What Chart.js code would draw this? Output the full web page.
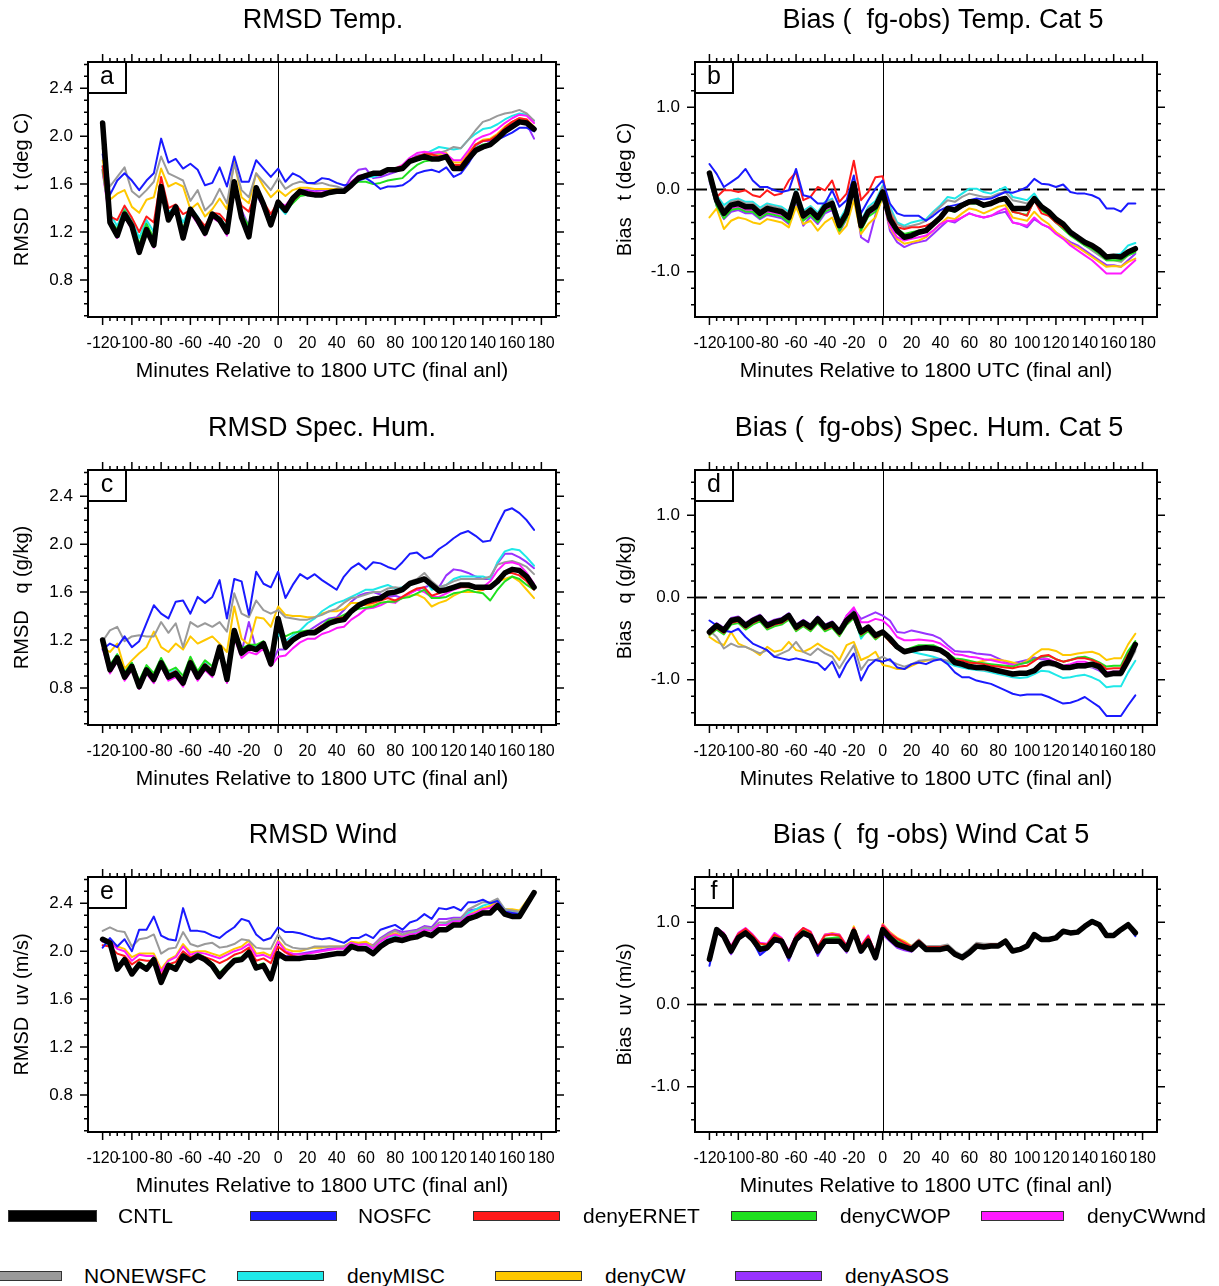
<!DOCTYPE html>
<html>
<head>
<meta charset="utf-8">
<title>RMSD and Bias by minute</title>
<script src="https://cdn.jsdelivr.net/npm/chart.js@4.4.1/dist/chart.umd.min.js"></script>
<style>
  body { margin: 0; background: #fff; }
  #page { position: relative; width: 1219px; height: 1286px; overflow: hidden; font-family: "Liberation Sans", Arial, Helvetica, sans-serif; }
  #page canvas { position: absolute; }
  .sw { position: absolute; height: 8px; border: 1px solid #333; }
  .lab { position: absolute; font-size: 21px; line-height: 24px; color: #000; white-space: nowrap; }
</style>
</head>
<body>
<div id="page">
  <canvas id="panelA" width="605" height="400" style="left:0;top:0"></canvas>
  <canvas id="panelB" width="614" height="400" style="left:605px;top:0"></canvas>
  <canvas id="panelC" width="605" height="400" style="left:0;top:408px"></canvas>
  <canvas id="panelD" width="614" height="400" style="left:605px;top:408px"></canvas>
  <canvas id="panelE" width="605" height="400" style="left:0;top:815px"></canvas>
  <canvas id="panelF" width="614" height="400" style="left:605px;top:815px"></canvas>
</div>
<script>
Chart.defaults.font.family = '"Liberation Sans", Arial, Helvetica, sans-serif';
Chart.defaults.font.size = 16;
Chart.defaults.color = "#000";

// minutes relative to 1800 UTC
const minutes = [-120,-115,-110,-105,-100,-95,-90,-85,-80,-75,-70,-65,-60,-55,-50,-45,-40,-35,-30,-25,-20,-15,-10,-5,0,
  5,10,15,20,25,30,35,40,45,50,55,60,65,70,75,80,85,90,95,100,105,110,115,120,125,130,135,140,145,150,155,160,165,170,175];
const xTicks = [-120,-100,-80,-60,-40,-20,0,20,40,60,80,100,120,140,160,180];
const rmsdTicks = [0.8, 1.2, 1.6, 2.0, 2.4];
const biasTicks = [-1, 0, 1];

const seriesNames = ["CNTL","NOSFC","denyERNET","denyCWOP","denyCWwnd","NONEWSFC","denyMISC","denyCW","denyASOS"];
const seriesColors = ["#000000","#1a1aff","#ff1a1a","#1fe01f","#ff1aff","#9a9a9a","#1fe8e8","#ffc800","#9933ff"];

// ---- RMSD temperature (a)
const tRmsdCNTL = [2.11,1.28,1.17,1.35,1.25,1.03,1.22,1.09,1.58,1.30,1.41,1.15,1.39,1.30,1.19,1.35,1.30,1.20,1.62,1.32,1.16,1.57,1.43,1.26,1.45,
  1.38,1.48,1.54,1.52,1.51,1.51,1.53,1.54,1.54,1.59,1.65,1.67,1.69,1.69,1.72,1.72,1.73,1.79,1.81,1.83,1.81,1.81,1.83,1.73,1.73,1.81,1.88,1.91,1.93,1.98,2.04,2.08,2.12,2.11,2.06];
const tRmsdNOSFC = [1.85,1.51,1.63,1.69,1.63,1.55,1.63,1.69,1.98,1.78,1.81,1.73,1.77,1.72,1.59,1.61,1.74,1.58,1.83,1.62,1.62,1.80,1.73,1.66,1.73,
  1.62,1.69,1.66,1.61,1.61,1.65,1.64,1.61,1.59,1.60,1.63,1.65,1.61,1.56,1.58,1.58,1.59,1.63,1.69,1.71,1.72,1.70,1.74,1.66,1.69,1.77,1.87,1.92,1.93,1.97,2.00,2.03,2.07,2.07,2.04];
const tRmsdERNET = [1.75,1.33,1.30,1.42,1.32,1.20,1.33,1.28,1.66,1.40,1.43,1.35,1.38,1.32,1.25,1.36,1.35,1.28,1.60,1.42,1.37,1.55,1.45,1.35,1.45,
  1.40,1.46,1.52,1.52,1.52,1.52,1.53,1.54,1.54,1.60,1.66,1.68,1.68,1.70,1.73,1.73,1.75,1.80,1.83,1.85,1.85,1.83,1.83,1.76,1.76,1.84,1.93,1.96,1.97,2.01,2.07,2.12,2.15,2.14,2.07];
const tRmsdCWOP = [1.72,1.30,1.22,1.38,1.28,1.10,1.27,1.15,1.56,1.34,1.40,1.23,1.38,1.30,1.21,1.34,1.32,1.23,1.58,1.35,1.25,1.54,1.44,1.30,1.45,
  1.38,1.44,1.50,1.51,1.51,1.51,1.52,1.53,1.54,1.59,1.62,1.62,1.60,1.61,1.63,1.64,1.65,1.71,1.76,1.79,1.80,1.81,1.82,1.74,1.74,1.82,1.90,1.93,1.94,1.98,2.04,2.09,2.13,2.13,2.06];
const tRmsdCWwnd = [1.70,1.28,1.15,1.33,1.22,1.02,1.20,1.07,1.52,1.30,1.37,1.14,1.36,1.27,1.17,1.32,1.28,1.17,1.56,1.30,1.19,1.52,1.40,1.25,1.45,
  1.42,1.50,1.54,1.54,1.53,1.53,1.54,1.54,1.55,1.62,1.67,1.68,1.68,1.69,1.72,1.73,1.76,1.82,1.86,1.87,1.86,1.87,1.85,1.80,1.80,1.88,1.97,2.00,2.02,2.06,2.11,2.15,2.18,2.17,2.11];
const tRmsdNONEW = [1.90,1.58,1.66,1.74,1.54,1.49,1.55,1.62,1.83,1.69,1.66,1.63,1.46,1.55,1.38,1.44,1.56,1.44,1.77,1.55,1.49,1.69,1.62,1.55,1.65,
  1.56,1.60,1.62,1.61,1.60,1.61,1.59,1.58,1.56,1.60,1.66,1.68,1.69,1.70,1.72,1.73,1.74,1.80,1.83,1.85,1.85,1.86,1.88,1.91,1.90,1.97,2.05,2.12,2.14,2.17,2.19,2.20,2.22,2.19,2.13];
const tRmsdMISC = [1.75,1.35,1.25,1.40,1.30,1.15,1.30,1.20,1.52,1.37,1.40,1.28,1.40,1.33,1.22,1.36,1.32,1.24,1.58,1.34,1.24,1.50,1.42,1.30,1.42,
  1.35,1.45,1.52,1.51,1.51,1.52,1.53,1.54,1.55,1.60,1.65,1.66,1.66,1.68,1.71,1.72,1.74,1.78,1.82,1.85,1.88,1.91,1.90,1.89,1.90,1.97,2.02,2.06,2.07,2.10,2.14,2.17,2.19,2.18,2.13];
const tRmsdCW = [1.80,1.47,1.52,1.55,1.41,1.36,1.47,1.49,1.73,1.58,1.61,1.58,1.39,1.44,1.33,1.39,1.48,1.39,1.79,1.49,1.44,1.69,1.58,1.49,1.55,
  1.50,1.55,1.57,1.57,1.56,1.56,1.56,1.56,1.55,1.60,1.66,1.67,1.68,1.69,1.71,1.72,1.74,1.79,1.82,1.84,1.84,1.85,1.86,1.78,1.78,1.86,1.93,1.97,1.98,2.02,2.08,2.12,2.15,2.14,2.08];
const tRmsdASOS = [1.72,1.30,1.22,1.38,1.28,1.08,1.26,1.12,1.54,1.33,1.40,1.20,1.40,1.30,1.20,1.36,1.32,1.22,1.58,1.38,1.25,1.55,1.45,1.30,1.46,
  1.40,1.50,1.55,1.55,1.54,1.55,1.55,1.54,1.56,1.66,1.72,1.73,1.65,1.66,1.68,1.70,1.73,1.80,1.84,1.85,1.84,1.84,1.84,1.76,1.76,1.85,1.92,1.96,1.96,2.01,2.07,2.11,2.14,2.10,1.98];

// ---- Bias temperature (b)
const tBiasCNTL = [0.20,-0.13,-0.29,-0.19,-0.17,-0.21,-0.21,-0.29,-0.23,-0.25,-0.27,-0.34,-0.05,-0.32,-0.25,-0.34,-0.21,-0.17,-0.44,-0.29,0.07,-0.44,-0.27,-0.21,-0.03,
  -0.36,-0.50,-0.58,-0.56,-0.52,-0.50,-0.42,-0.34,-0.23,-0.25,-0.19,-0.15,-0.15,-0.19,-0.17,-0.13,-0.11,-0.23,-0.23,-0.23,-0.11,-0.21,-0.27,-0.36,-0.42,-0.52,-0.58,-0.64,-0.68,-0.74,-0.82,-0.81,-0.82,-0.76,-0.72];
const tBiasNOSFC = [0.31,0.19,0.03,0.09,0.15,0.25,0.11,0.03,0.03,-0.01,-0.03,-0.01,0.25,-0.07,-0.09,-0.17,-0.17,-0.01,-0.21,-0.13,0.17,-0.29,-0.13,0.01,0.11,
  -0.17,-0.29,-0.32,-0.32,-0.32,-0.38,-0.32,-0.25,-0.21,-0.19,-0.17,-0.13,-0.11,-0.12,-0.11,-0.07,-0.03,-0.04,-0.01,0.03,0.13,0.07,0.06,0.03,0.06,-0.03,-0.05,-0.05,-0.07,-0.11,-0.23,-0.23,-0.27,-0.17,-0.17];
const tBiasERNET = [0.18,-0.09,-0.01,-0.01,-0.03,-0.01,-0.07,-0.09,-0.01,-0.07,-0.05,0.11,0.21,-0.13,-0.09,0.03,-0.01,0.11,-0.15,-0.05,0.35,-0.13,-0.03,0.15,0.16,
  -0.29,-0.46,-0.48,-0.46,-0.46,-0.44,-0.40,-0.32,-0.23,-0.25,-0.21,-0.17,-0.15,-0.19,-0.15,-0.11,-0.09,-0.27,-0.29,-0.32,-0.13,-0.29,-0.32,-0.40,-0.46,-0.54,-0.60,-0.66,-0.70,-0.76,-0.80,-0.80,-0.82,-0.76,-0.74];
const tBiasCWOP = [0.12,-0.20,-0.35,-0.25,-0.23,-0.27,-0.27,-0.35,-0.29,-0.31,-0.33,-0.40,-0.12,-0.38,-0.31,-0.40,-0.27,-0.23,-0.50,-0.35,0.01,-0.50,-0.33,-0.27,-0.08,
  -0.33,-0.48,-0.54,-0.52,-0.50,-0.48,-0.42,-0.34,-0.25,-0.27,-0.21,-0.17,-0.17,-0.21,-0.17,-0.13,-0.11,-0.27,-0.29,-0.31,-0.13,-0.25,-0.32,-0.40,-0.48,-0.56,-0.62,-0.68,-0.72,-0.78,-0.86,-0.86,-0.86,-0.80,-0.76];
const tBiasCWwnd = [0.14,-0.17,-0.33,-0.23,-0.21,-0.25,-0.25,-0.33,-0.27,-0.29,-0.31,-0.38,-0.09,-0.36,-0.29,-0.38,-0.25,-0.21,-0.48,-0.33,0.03,-0.48,-0.31,-0.25,-0.06,
  -0.44,-0.58,-0.62,-0.60,-0.58,-0.56,-0.50,-0.42,-0.38,-0.38,-0.34,-0.29,-0.32,-0.34,-0.32,-0.27,-0.23,-0.40,-0.42,-0.44,-0.34,-0.42,-0.46,-0.54,-0.60,-0.68,-0.74,-0.80,-0.86,-0.94,-1.02,-1.02,-1.02,-0.94,-0.86];
const tBiasNONEW = [0.17,-0.09,-0.23,-0.15,-0.13,-0.17,-0.17,-0.25,-0.19,-0.21,-0.23,-0.30,-0.02,-0.28,-0.22,-0.30,-0.17,-0.13,-0.40,-0.25,0.09,-0.40,-0.23,-0.17,0.03,
  -0.25,-0.42,-0.46,-0.44,-0.42,-0.38,-0.29,-0.21,-0.13,-0.15,-0.09,-0.05,-0.07,-0.09,-0.09,-0.05,-0.03,-0.13,-0.15,-0.17,-0.09,-0.23,-0.29,-0.40,-0.46,-0.54,-0.62,-0.68,-0.74,-0.80,-0.86,-0.86,-0.88,-0.80,-0.76];
const tBiasMISC = [0.15,-0.07,-0.19,-0.13,-0.11,-0.15,-0.15,-0.22,-0.17,-0.19,-0.21,-0.27,0.00,-0.26,-0.20,-0.28,-0.15,-0.11,-0.37,-0.22,0.10,-0.38,-0.21,-0.14,0.05,
  -0.21,-0.40,-0.44,-0.40,-0.38,-0.36,-0.27,-0.19,-0.09,-0.11,-0.05,0.01,0.01,-0.03,-0.05,-0.01,0.03,-0.09,-0.11,-0.13,-0.05,-0.19,-0.27,-0.38,-0.44,-0.52,-0.58,-0.62,-0.68,-0.72,-0.80,-0.80,-0.78,-0.68,-0.65];
const tBiasCW = [-0.34,-0.23,-0.48,-0.38,-0.34,-0.36,-0.40,-0.42,-0.36,-0.38,-0.40,-0.46,-0.21,-0.42,-0.38,-0.50,-0.40,-0.34,-0.54,-0.44,-0.13,-0.54,-0.42,-0.34,-0.09,
  -0.46,-0.60,-0.66,-0.64,-0.62,-0.58,-0.50,-0.42,-0.34,-0.36,-0.29,-0.23,-0.25,-0.29,-0.25,-0.21,-0.19,-0.34,-0.36,-0.38,-0.27,-0.36,-0.42,-0.52,-0.58,-0.66,-0.70,-0.76,-0.82,-0.88,-0.94,-0.93,-0.94,-0.88,-0.84];
const tBiasASOS = [0.10,-0.20,-0.36,-0.27,-0.25,-0.29,-0.29,-0.36,-0.31,-0.33,-0.35,-0.42,-0.15,-0.44,-0.33,-0.42,-0.29,-0.25,-0.52,-0.36,0.00,-0.58,-0.64,-0.31,-0.09,
  -0.50,-0.64,-0.70,-0.66,-0.64,-0.62,-0.54,-0.46,-0.38,-0.40,-0.34,-0.29,-0.32,-0.34,-0.32,-0.29,-0.27,-0.40,-0.42,-0.46,-0.36,-0.42,-0.46,-0.52,-0.58,-0.64,-0.68,-0.74,-0.80,-0.86,-0.92,-0.92,-0.94,-0.86,-0.78];

// ---- RMSD specific humidity (c)
const qRmsdCNTL = [1.20,0.95,1.05,0.89,0.98,0.81,0.95,0.87,1.01,0.89,0.92,0.84,1.01,0.89,0.98,0.92,1.14,0.87,1.28,1.09,1.14,1.12,1.17,1.00,1.38,
  1.14,1.20,1.24,1.26,1.26,1.30,1.34,1.36,1.37,1.44,1.49,1.52,1.54,1.55,1.59,1.60,1.62,1.67,1.69,1.71,1.66,1.61,1.62,1.64,1.66,1.66,1.64,1.64,1.64,1.69,1.76,1.79,1.78,1.73,1.64];
const qRmsdNOSFC = [1.12,1.17,1.14,1.23,1.14,1.19,1.34,1.49,1.42,1.38,1.52,1.53,1.42,1.56,1.51,1.56,1.70,1.38,1.71,1.69,1.41,1.77,1.67,1.64,1.77,
  1.55,1.66,1.75,1.71,1.75,1.70,1.66,1.62,1.73,1.80,1.84,1.79,1.85,1.84,1.81,1.79,1.85,1.92,1.93,1.88,1.90,1.96,2.00,2.05,2.09,2.11,2.07,2.02,2.03,2.16,2.28,2.30,2.26,2.20,2.12];
const qRmsdERNET = [1.15,0.97,1.06,0.91,0.99,0.84,0.96,0.90,1.02,0.91,0.94,0.87,1.03,0.91,1.00,0.95,1.12,0.90,1.22,1.10,1.13,1.13,1.16,1.03,1.30,
  1.17,1.21,1.24,1.26,1.28,1.32,1.35,1.38,1.39,1.45,1.48,1.50,1.51,1.53,1.55,1.53,1.56,1.60,1.63,1.64,1.57,1.59,1.62,1.63,1.64,1.64,1.63,1.62,1.64,1.71,1.76,1.76,1.74,1.69,1.62];
const qRmsdCWOP = [1.17,0.99,1.08,0.93,1.01,0.86,0.99,0.92,1.05,0.94,0.97,0.90,1.06,0.94,1.03,0.98,1.15,0.95,1.25,1.13,1.16,1.16,1.19,1.06,1.30,
  1.23,1.26,1.27,1.28,1.28,1.32,1.37,1.38,1.41,1.44,1.46,1.47,1.48,1.51,1.52,1.52,1.55,1.56,1.59,1.62,1.55,1.55,1.56,1.59,1.60,1.62,1.60,1.59,1.53,1.62,1.69,1.73,1.71,1.66,1.62];
const qRmsdCWwnd = [1.13,0.92,1.02,0.86,0.95,0.79,0.92,0.84,0.98,0.86,0.89,0.81,0.98,0.86,0.95,0.89,1.10,0.84,1.22,1.05,1.10,1.08,1.13,0.98,1.06,
  1.07,1.13,1.18,1.21,1.21,1.25,1.27,1.30,1.31,1.37,1.41,1.46,1.47,1.49,1.52,1.51,1.56,1.59,1.62,1.60,1.56,1.56,1.59,1.62,1.64,1.66,1.64,1.64,1.69,1.78,1.84,1.85,1.83,1.76,1.67];
const qRmsdNONEW = [1.19,1.28,1.31,1.19,1.23,1.24,1.23,1.23,1.35,1.26,1.34,1.14,1.35,1.31,1.34,1.31,1.35,1.27,1.59,1.42,1.39,1.53,1.45,1.42,1.45,
  1.39,1.38,1.37,1.37,1.39,1.41,1.44,1.46,1.51,1.55,1.56,1.58,1.60,1.60,1.63,1.64,1.63,1.69,1.71,1.76,1.69,1.64,1.66,1.69,1.71,1.71,1.71,1.71,1.73,1.83,1.85,1.86,1.84,1.81,1.75];
const qRmsdMISC = [1.18,0.98,1.08,0.92,1.01,0.84,0.98,0.90,1.04,0.92,0.95,0.87,1.04,0.92,1.01,0.95,1.13,0.90,1.25,1.12,1.15,1.15,1.18,1.03,1.25,
  1.19,1.24,1.28,1.34,1.38,1.44,1.48,1.51,1.53,1.56,1.59,1.62,1.62,1.64,1.66,1.63,1.64,1.68,1.70,1.71,1.62,1.64,1.66,1.71,1.73,1.73,1.73,1.73,1.71,1.85,1.94,1.96,1.95,1.89,1.82];
const qRmsdCW = [1.13,1.10,1.17,0.96,1.03,1.09,1.14,1.27,1.14,1.10,1.17,1.12,1.23,1.17,1.20,1.23,1.17,1.10,1.48,1.21,1.16,1.39,1.38,1.31,1.48,
  1.41,1.40,1.40,1.39,1.39,1.42,1.44,1.44,1.46,1.51,1.51,1.49,1.49,1.51,1.52,1.53,1.55,1.57,1.58,1.55,1.48,1.51,1.53,1.57,1.60,1.60,1.60,1.62,1.66,1.69,1.71,1.73,1.69,1.62,1.55];
const qRmsdASOS = [1.17,0.96,1.06,0.90,0.99,0.83,0.96,0.88,1.02,0.88,0.93,0.86,1.02,0.88,0.99,0.93,1.13,0.88,1.27,1.10,1.35,1.12,1.16,0.99,1.12,
  1.12,1.19,1.24,1.27,1.31,1.35,1.38,1.39,1.45,1.52,1.57,1.59,1.60,1.58,1.56,1.57,1.55,1.59,1.62,1.64,1.66,1.64,1.74,1.79,1.78,1.76,1.73,1.71,1.71,1.84,1.92,1.92,1.89,1.85,1.80];

// ---- Bias specific humidity (d)
const qBiasCNTL = [-0.42,-0.34,-0.40,-0.28,-0.26,-0.34,-0.28,-0.24,-0.34,-0.30,-0.28,-0.22,-0.36,-0.30,-0.36,-0.26,-0.36,-0.32,-0.42,-0.28,-0.20,-0.42,-0.36,-0.46,-0.42,
  -0.50,-0.60,-0.66,-0.64,-0.62,-0.61,-0.62,-0.64,-0.70,-0.79,-0.81,-0.84,-0.85,-0.85,-0.87,-0.89,-0.91,-0.93,-0.92,-0.92,-0.89,-0.81,-0.79,-0.81,-0.85,-0.85,-0.83,-0.83,-0.81,-0.84,-0.94,-0.92,-0.92,-0.76,-0.57];
const qBiasNOSFC = [-0.28,-0.34,-0.40,-0.42,-0.38,-0.48,-0.56,-0.60,-0.64,-0.72,-0.74,-0.76,-0.74,-0.76,-0.78,-0.80,-0.88,-0.78,-0.97,-0.80,-0.68,-1.01,-0.84,-0.76,-0.78,
  -0.75,-0.85,-0.87,-0.81,-0.79,-0.81,-0.77,-0.75,-0.81,-0.91,-0.97,-0.97,-1.01,-1.03,-1.05,-1.09,-1.13,-1.17,-1.19,-1.18,-1.18,-1.18,-1.21,-1.25,-1.29,-1.28,-1.25,-1.21,-1.27,-1.33,-1.44,-1.44,-1.44,-1.31,-1.19];
const qBiasERNET = [-0.45,-0.37,-0.43,-0.31,-0.29,-0.37,-0.31,-0.27,-0.37,-0.33,-0.31,-0.25,-0.39,-0.33,-0.39,-0.29,-0.39,-0.35,-0.45,-0.31,-0.23,-0.45,-0.39,-0.49,-0.44,
  -0.54,-0.62,-0.65,-0.63,-0.61,-0.60,-0.61,-0.64,-0.69,-0.76,-0.77,-0.79,-0.80,-0.81,-0.83,-0.84,-0.85,-0.86,-0.84,-0.83,-0.77,-0.71,-0.70,-0.75,-0.78,-0.76,-0.74,-0.74,-0.76,-0.80,-0.87,-0.86,-0.86,-0.69,-0.57];
const qBiasCWOP = [-0.46,-0.39,-0.45,-0.33,-0.31,-0.39,-0.33,-0.29,-0.39,-0.35,-0.33,-0.27,-0.41,-0.35,-0.41,-0.31,-0.41,-0.37,-0.47,-0.33,-0.25,-0.47,-0.41,-0.51,-0.44,
  -0.54,-0.60,-0.64,-0.61,-0.58,-0.58,-0.58,-0.62,-0.68,-0.74,-0.75,-0.77,-0.79,-0.80,-0.81,-0.82,-0.83,-0.84,-0.81,-0.79,-0.75,-0.72,-0.71,-0.75,-0.78,-0.76,-0.73,-0.72,-0.75,-0.79,-0.84,-0.83,-0.83,-0.65,-0.53];
const qBiasCWwnd = [-0.40,-0.32,-0.38,-0.26,-0.24,-0.32,-0.26,-0.22,-0.32,-0.28,-0.26,-0.20,-0.34,-0.28,-0.34,-0.24,-0.34,-0.30,-0.40,-0.22,-0.12,-0.30,-0.30,-0.26,-0.28,
  -0.36,-0.48,-0.52,-0.52,-0.51,-0.52,-0.53,-0.56,-0.62,-0.69,-0.70,-0.72,-0.73,-0.75,-0.76,-0.78,-0.80,-0.82,-0.81,-0.79,-0.75,-0.73,-0.75,-0.79,-0.83,-0.81,-0.78,-0.78,-0.81,-0.85,-0.91,-0.90,-0.90,-0.73,-0.61];
const qBiasNONEW = [-0.40,-0.48,-0.62,-0.56,-0.60,-0.60,-0.64,-0.68,-0.64,-0.72,-0.68,-0.64,-0.54,-0.66,-0.70,-0.62,-0.68,-0.72,-0.86,-0.72,-0.58,-0.88,-0.76,-0.76,-0.72,
  -0.77,-0.81,-0.84,-0.81,-0.77,-0.76,-0.75,-0.75,-0.77,-0.81,-0.83,-0.85,-0.87,-0.88,-0.89,-0.91,-0.93,-0.95,-0.94,-0.93,-0.91,-0.83,-0.82,-0.84,-0.87,-0.87,-0.85,-0.85,-0.84,-0.87,-0.96,-0.95,-0.95,-0.81,-0.65];
const qBiasMISC = [-0.44,-0.36,-0.42,-0.30,-0.28,-0.36,-0.30,-0.26,-0.36,-0.32,-0.30,-0.24,-0.38,-0.32,-0.38,-0.28,-0.38,-0.34,-0.44,-0.30,-0.22,-0.50,-0.38,-0.48,-0.42,
  -0.52,-0.62,-0.66,-0.66,-0.68,-0.70,-0.72,-0.75,-0.79,-0.83,-0.85,-0.87,-0.88,-0.89,-0.91,-0.93,-0.95,-0.97,-0.98,-0.97,-0.93,-0.89,-0.90,-0.94,-0.98,-0.97,-0.95,-0.94,-0.97,-1.01,-1.09,-1.08,-1.08,-0.91,-0.77];
const qBiasCW = [-0.48,-0.54,-0.58,-0.42,-0.56,-0.60,-0.64,-0.70,-0.60,-0.66,-0.64,-0.54,-0.64,-0.66,-0.62,-0.56,-0.62,-0.66,-0.76,-0.58,-0.54,-0.76,-0.72,-0.66,-0.82,
  -0.84,-0.87,-0.87,-0.83,-0.79,-0.77,-0.75,-0.75,-0.78,-0.81,-0.83,-0.81,-0.79,-0.77,-0.75,-0.76,-0.77,-0.79,-0.81,-0.77,-0.69,-0.63,-0.63,-0.65,-0.70,-0.70,-0.68,-0.67,-0.66,-0.69,-0.76,-0.74,-0.74,-0.57,-0.44];
const qBiasASOS = [-0.39,-0.31,-0.37,-0.25,-0.23,-0.31,-0.25,-0.21,-0.31,-0.27,-0.25,-0.19,-0.33,-0.27,-0.33,-0.23,-0.33,-0.29,-0.39,-0.22,-0.14,-0.26,-0.22,-0.18,-0.22,
  -0.28,-0.42,-0.43,-0.40,-0.42,-0.44,-0.46,-0.50,-0.58,-0.65,-0.66,-0.66,-0.68,-0.69,-0.70,-0.74,-0.78,-0.80,-0.78,-0.76,-0.73,-0.75,-0.76,-0.83,-0.85,-0.83,-0.81,-0.83,-0.85,-0.89,-0.95,-0.94,-0.94,-0.75,-0.63];

// ---- RMSD wind (e)
const uvRmsdCNTL = [2.10,2.07,1.85,1.93,1.81,1.89,1.85,1.93,1.74,1.88,1.85,1.96,1.92,1.96,1.93,1.88,1.79,1.86,1.92,1.93,1.99,1.86,1.88,1.77,1.98,
  1.94,1.94,1.94,1.95,1.95,1.96,1.97,1.98,1.98,2.04,2.02,2.02,1.98,2.04,2.08,2.10,2.09,2.11,2.12,2.15,2.13,2.18,2.18,2.22,2.22,2.27,2.29,2.32,2.32,2.38,2.31,2.29,2.29,2.39,2.49];
const uvRmsdNOSFC = [2.03,2.11,2.04,2.10,2.00,2.18,2.18,2.29,2.13,2.10,2.09,2.36,2.17,2.17,2.16,2.13,2.11,2.16,2.20,2.27,2.25,2.14,2.09,2.11,2.20,
  2.16,2.16,2.15,2.13,2.11,2.10,2.11,2.09,2.07,2.11,2.11,2.14,2.11,2.18,2.20,2.22,2.18,2.24,2.26,2.31,2.27,2.36,2.35,2.37,2.34,2.41,2.41,2.43,2.40,2.42,2.33,2.32,2.31,2.40,2.49];
const uvRmsdERNET = [2.05,2.04,1.98,1.96,1.89,1.93,1.92,1.92,1.80,1.89,1.91,2.00,1.95,1.97,1.95,1.93,1.90,1.93,1.97,1.99,2.03,1.92,1.94,1.90,2.04,
  1.99,1.96,1.95,1.96,1.96,1.97,1.98,1.99,1.99,2.05,2.03,2.03,1.99,2.05,2.09,2.11,2.10,2.12,2.13,2.16,2.14,2.19,2.19,2.23,2.23,2.28,2.30,2.33,2.33,2.39,2.32,2.30,2.30,2.40,2.49];
const uvRmsdCWOP = [2.10,2.07,1.87,1.95,1.83,1.91,1.87,1.95,1.77,1.90,1.87,1.98,1.94,1.98,1.95,1.90,1.82,1.88,1.94,1.95,2.01,1.88,1.90,1.80,1.98,
  1.95,1.95,1.95,1.96,1.96,1.97,1.98,1.99,1.99,2.05,2.03,2.03,1.99,2.05,2.09,2.11,2.10,2.12,2.13,2.16,2.14,2.19,2.19,2.23,2.23,2.28,2.30,2.33,2.33,2.39,2.32,2.30,2.30,2.40,2.49];
const uvRmsdCWwnd = [2.08,2.08,2.02,2.00,1.92,1.97,1.96,1.96,1.83,1.92,1.95,2.04,1.97,1.99,1.98,1.96,1.94,1.97,2.00,2.02,2.06,1.96,1.97,1.94,2.08,
  2.00,1.98,1.97,1.98,1.99,2.00,2.01,2.02,2.02,2.07,2.05,2.06,2.02,2.08,2.12,2.14,2.12,2.14,2.15,2.18,2.17,2.22,2.22,2.25,2.25,2.30,2.32,2.35,2.36,2.40,2.33,2.32,2.31,2.40,2.49];
const uvRmsdNONEW = [2.17,2.20,2.17,2.16,2.04,2.10,2.11,2.14,1.98,2.02,2.03,2.16,2.06,2.04,2.06,2.07,2.03,2.04,2.06,2.10,2.09,2.03,2.02,2.02,2.14,
  2.06,2.03,2.02,2.02,2.04,2.04,2.04,2.04,2.04,2.07,2.05,2.06,2.04,2.10,2.14,2.17,2.14,2.16,2.17,2.20,2.19,2.24,2.24,2.27,2.27,2.35,2.38,2.41,2.41,2.44,2.35,2.34,2.33,2.41,2.49];
const uvRmsdMISC = [2.08,2.05,1.84,1.92,1.80,1.88,1.84,1.92,1.74,1.87,1.84,1.95,1.91,1.95,1.92,1.87,1.79,1.85,1.91,1.92,1.98,1.85,1.87,1.77,1.96,
  1.93,1.93,1.93,1.94,1.94,1.96,1.97,1.98,1.98,2.05,2.04,2.04,2.00,2.06,2.10,2.13,2.12,2.14,2.16,2.19,2.17,2.22,2.23,2.26,2.26,2.32,2.35,2.38,2.40,2.43,2.35,2.33,2.32,2.41,2.49];
const uvRmsdCW = [2.10,2.09,2.04,2.02,1.95,1.98,1.98,1.98,1.85,1.93,1.96,2.06,1.99,2.00,2.00,1.98,1.96,1.99,2.02,2.04,2.09,1.98,1.99,1.96,2.09,
  2.02,2.00,2.00,2.02,2.03,2.03,2.04,2.04,2.04,2.08,2.07,2.08,2.04,2.10,2.13,2.15,2.13,2.15,2.16,2.18,2.17,2.22,2.22,2.25,2.26,2.31,2.33,2.36,2.38,2.42,2.35,2.35,2.34,2.42,2.50];
const uvRmsdASOS = [2.09,2.06,1.86,1.94,1.82,1.90,1.86,1.94,1.75,1.89,1.86,1.97,1.93,1.97,1.94,1.89,1.77,1.87,1.93,1.94,2.00,1.87,1.89,1.78,1.97,
  1.96,1.97,1.98,1.99,2.00,2.01,2.02,2.03,2.04,2.07,2.06,2.07,2.05,2.11,2.15,2.18,2.16,2.17,2.18,2.21,2.20,2.27,2.27,2.28,2.28,2.34,2.35,2.36,2.37,2.41,2.34,2.33,2.32,2.41,2.49];

// ---- Bias wind (f)
const uvBiasCNTL = [0.55,0.91,0.83,0.65,0.81,0.87,0.79,0.67,0.69,0.79,0.77,0.59,0.79,0.87,0.83,0.65,0.77,0.77,0.77,0.67,0.89,0.65,0.77,0.57,0.91,
  0.81,0.73,0.70,0.67,0.75,0.67,0.67,0.67,0.69,0.61,0.57,0.63,0.71,0.70,0.71,0.71,0.77,0.65,0.67,0.71,0.85,0.79,0.79,0.81,0.89,0.87,0.88,0.95,1.01,0.97,0.84,0.84,0.91,0.97,0.87];
const uvBiasNOSFC = [0.47,0.89,0.81,0.63,0.79,0.85,0.77,0.60,0.67,0.77,0.75,0.55,0.77,0.85,0.81,0.61,0.75,0.75,0.75,0.65,0.87,0.63,0.75,0.55,0.89,
  0.79,0.71,0.68,0.66,0.74,0.66,0.66,0.67,0.68,0.61,0.58,0.64,0.72,0.71,0.72,0.72,0.77,0.66,0.67,0.72,0.86,0.80,0.80,0.82,0.90,0.87,0.88,0.96,1.02,0.98,0.84,0.84,0.91,0.96,0.83];
const uvBiasERNET = [0.57,0.92,0.86,0.70,0.86,0.92,0.84,0.74,0.73,0.85,0.80,0.64,0.84,0.93,0.88,0.70,0.84,0.85,0.84,0.71,0.93,0.71,0.83,0.62,0.96,
  0.86,0.80,0.75,0.70,0.78,0.70,0.70,0.70,0.71,0.63,0.58,0.65,0.73,0.72,0.73,0.73,0.78,0.66,0.68,0.72,0.85,0.80,0.80,0.82,0.89,0.87,0.88,0.95,1.01,0.97,0.85,0.85,0.92,0.98,0.88];
const uvBiasCWOP = [0.56,0.91,0.84,0.67,0.83,0.89,0.81,0.70,0.71,0.82,0.79,0.61,0.81,0.90,0.85,0.67,0.80,0.81,0.82,0.69,0.91,0.67,0.80,0.59,0.93,
  0.84,0.77,0.73,0.69,0.77,0.69,0.69,0.69,0.71,0.62,0.58,0.64,0.72,0.72,0.72,0.72,0.78,0.66,0.68,0.72,0.86,0.80,0.80,0.82,0.89,0.87,0.88,0.95,1.01,0.97,0.85,0.85,0.91,0.97,0.87];
const uvBiasCWwnd = [0.57,0.93,0.87,0.71,0.87,0.93,0.85,0.75,0.74,0.87,0.81,0.65,0.85,0.93,0.89,0.70,0.85,0.86,0.85,0.72,0.93,0.72,0.84,0.62,0.97,
  0.87,0.80,0.75,0.69,0.76,0.69,0.69,0.69,0.70,0.62,0.58,0.64,0.72,0.72,0.72,0.72,0.78,0.66,0.67,0.72,0.86,0.80,0.80,0.82,0.89,0.87,0.88,0.95,1.01,0.97,0.84,0.84,0.91,0.97,0.87];
const uvBiasNONEW = [0.55,0.90,0.84,0.67,0.83,0.89,0.81,0.70,0.71,0.81,0.79,0.61,0.81,0.89,0.85,0.67,0.80,0.80,0.80,0.69,0.90,0.67,0.79,0.59,0.93,
  0.84,0.78,0.75,0.71,0.79,0.71,0.71,0.71,0.73,0.65,0.60,0.67,0.75,0.74,0.74,0.74,0.79,0.67,0.68,0.73,0.86,0.80,0.80,0.82,0.89,0.87,0.88,0.95,1.01,0.97,0.84,0.84,0.91,0.97,0.87];
const uvBiasMISC = [0.54,0.90,0.83,0.66,0.82,0.88,0.80,0.68,0.70,0.80,0.78,0.60,0.80,0.88,0.84,0.66,0.78,0.78,0.78,0.68,0.89,0.66,0.78,0.58,0.92,
  0.82,0.75,0.72,0.69,0.76,0.68,0.68,0.69,0.71,0.63,0.59,0.65,0.73,0.72,0.73,0.73,0.78,0.66,0.68,0.72,0.86,0.80,0.80,0.82,0.90,0.88,0.89,0.96,1.03,0.98,0.85,0.85,0.92,0.97,0.87];
const uvBiasCW = [0.56,0.92,0.86,0.70,0.85,0.91,0.83,0.74,0.72,0.84,0.80,0.63,0.83,0.92,0.87,0.70,0.85,0.87,0.85,0.71,0.95,0.71,0.83,0.61,0.98,
  0.88,0.81,0.77,0.71,0.78,0.70,0.70,0.70,0.72,0.63,0.59,0.65,0.73,0.73,0.73,0.73,0.79,0.67,0.68,0.72,0.86,0.80,0.80,0.82,0.89,0.87,0.88,0.95,1.01,0.97,0.84,0.84,0.91,0.97,0.87];
const uvBiasASOS = [0.52,0.88,0.81,0.61,0.79,0.85,0.77,0.63,0.67,0.77,0.75,0.53,0.77,0.85,0.81,0.59,0.75,0.75,0.75,0.63,0.87,0.63,0.75,0.55,0.85,
  0.77,0.69,0.66,0.64,0.73,0.66,0.66,0.67,0.68,0.61,0.57,0.63,0.71,0.71,0.72,0.72,0.78,0.66,0.67,0.72,0.86,0.80,0.80,0.82,0.90,0.88,0.88,0.95,1.01,0.97,0.84,0.84,0.91,0.97,0.87];

const FONT = '"Liberation Sans", Arial, Helvetica, sans-serif';

// NCL-like frame: outward ticks on four sides, letter box, titles, zero lines
const nclFrame = {
  id: "nclFrame",
  beforeDatasetsDraw(chart, args, o) {
    const { ctx, chartArea: a, scales: { x, y } } = chart;
    ctx.save();
    ctx.strokeStyle = "#000";
    ctx.lineWidth = 1;
    const x0 = Math.round(x.getPixelForValue(0)) + 0.5;
    ctx.beginPath();
    ctx.moveTo(x0, a.top);
    ctx.lineTo(x0, a.bottom);
    ctx.stroke();
    if (o.bias) {
      const y0 = y.getPixelForValue(0);
      ctx.lineWidth = 2.2;
      ctx.setLineDash([12, 7]);
      ctx.beginPath();
      ctx.moveTo(a.left, y0);
      ctx.lineTo(a.right, y0);
      ctx.stroke();
    }
    ctx.restore();
  },
  afterDraw(chart, args, o) {
    const { ctx, chartArea: a, scales: { x, y } } = chart;
    ctx.save();
    ctx.strokeStyle = "#000";
    ctx.fillStyle = "#000";
    ctx.lineWidth = 1.5;
    ctx.beginPath();
    for (let m = -120; m <= 180; m += 5) {
      const px = x.getPixelForValue(m);
      const len = m % 20 === 0 ? 8 : 4;
      ctx.moveTo(px, a.top); ctx.lineTo(px, a.top - len);
      ctx.moveTo(px, a.bottom); ctx.lineTo(px, a.bottom + len);
    }
    // y ticks (minor every 0.1 for RMSD, 0.2 for bias)
    const k0 = o.bias ? -7 : 5, k1 = o.bias ? 7 : 26;
    for (let k = k0; k <= k1; k++) {
      const v = o.bias ? k * 0.2 : k / 10;
      const major = o.bias ? k % 5 === 0 : k % 4 === 0;
      const py = y.getPixelForValue(v);
      const len = major ? 8 : 4;
      ctx.moveTo(a.left, py); ctx.lineTo(a.left - len, py);
      ctx.moveTo(a.right, py); ctx.lineTo(a.right + len, py);
    }
    ctx.stroke();

    ctx.lineWidth = 2;
    ctx.strokeRect(a.left, a.top, a.right - a.left, a.bottom - a.top);

    // panel letter
    ctx.fillStyle = "#fff";
    ctx.fillRect(a.left, a.top, 38, 31);
    ctx.strokeRect(a.left, a.top, 38, 31);
    ctx.fillStyle = "#000";
    ctx.textAlign = "center";
    ctx.textBaseline = "middle";
    ctx.font = "25px " + FONT;
    ctx.fillText(o.letter, a.left + 19, a.top + 15);

    ctx.font = "27px " + FONT;
    ctx.fillText(o.title, o.titleX, a.top - 41);

    ctx.font = "21px " + FONT;
    ctx.fillText("Minutes Relative to 1800 UTC (final anl)", (a.left + a.right) / 2, a.bottom + 54);

    ctx.translate(o.yTitleX, (a.top + a.bottom) / 2);
    ctx.rotate(-Math.PI / 2);
    ctx.font = "20px " + FONT;
    ctx.fillText(o.yTitle, 0, 0);
    ctx.restore();
  }
};

function makePanel(id, def) {
  const canvas = document.getElementById(id);
  const W = canvas.width;
  const datasets = def.lines.map((vals, i) => ({
    label: seriesNames[i],
    data: minutes.map((m, j) => ({ x: m, y: vals[j] })),
    borderColor: seriesColors[i],
    borderWidth: i === 0 ? 5.5 : 2,
    pointRadius: 0,
    tension: 0,
    borderJoinStyle: "round",
    borderCapStyle: "round"
  }));
  return new Chart(canvas.getContext("2d"), {
    type: "line",
    data: { datasets },
    plugins: [nclFrame],
    options: {
      responsive: false,
      animation: false,
      events: [],
      layout: { padding: { left: def.left - 60, right: W - def.right, top: 62, bottom: 400 - 317 - 40 } },
      plugins: {
        legend: { display: false },
        tooltip: { enabled: false },
        nclFrame: def
      },
      scales: {
        x: {
          type: "linear",
          min: -130,
          max: 190,
          grid: { display: false, drawTicks: false },
          border: { display: false },
          ticks: { autoSkip: false, maxRotation: 0, minRotation: 0, padding: 17, font: { size: 16 }, callback: (v) => String(v) },
          afterBuildTicks: (s) => { s.ticks = xTicks.map((v) => ({ value: v })); },
          afterFit: (s) => { s.height = 40; }
        },
        y: {
          type: "linear",
          min: def.bias ? -1.55 : 0.49,
          max: def.bias ? 1.55 : 2.62,
          grid: { display: false, drawTicks: false },
          border: { display: false },
          ticks: { padding: 15, font: { size: 17 }, callback: (v) => Number(v).toFixed(1) },
          afterBuildTicks: (s) => { s.ticks = (def.bias ? biasTicks : rmsdTicks).map((v) => ({ value: v })); },
          afterFit: (s) => { s.width = 60; }
        }
      }
    }
  });
}

makePanel("panelA", { title: "RMSD Temp.", titleX: 323, letter: "a", yTitle: "RMSD   t (deg C)", yTitleX: 22, bias: false, left: 88, right: 556,
  lines: [tRmsdCNTL, tRmsdNOSFC, tRmsdERNET, tRmsdCWOP, tRmsdCWwnd, tRmsdNONEW, tRmsdMISC, tRmsdCW, tRmsdASOS] });
makePanel("panelB", { title: "Bias (  fg-obs) Temp. Cat 5", titleX: 338, letter: "b", yTitle: "Bias   t (deg C)", yTitleX: 20, bias: true, left: 90, right: 552,
  lines: [tBiasCNTL, tBiasNOSFC, tBiasERNET, tBiasCWOP, tBiasCWwnd, tBiasNONEW, tBiasMISC, tBiasCW, tBiasASOS] });
makePanel("panelC", { title: "RMSD Spec. Hum.", titleX: 322, letter: "c", yTitle: "RMSD   q (g/kg)", yTitleX: 22, bias: false, left: 88, right: 556,
  lines: [qRmsdCNTL, qRmsdNOSFC, qRmsdERNET, qRmsdCWOP, qRmsdCWwnd, qRmsdNONEW, qRmsdMISC, qRmsdCW, qRmsdASOS] });
makePanel("panelD", { title: "Bias (  fg-obs) Spec. Hum. Cat 5", titleX: 324, letter: "d", yTitle: "Bias   q (g/kg)", yTitleX: 20, bias: true, left: 90, right: 552,
  lines: [qBiasCNTL, qBiasNOSFC, qBiasERNET, qBiasCWOP, qBiasCWwnd, qBiasNONEW, qBiasMISC, qBiasCW, qBiasASOS] });
makePanel("panelE", { title: "RMSD Wind", titleX: 323, letter: "e", yTitle: "RMSD  uv (m/s)", yTitleX: 22, bias: false, left: 88, right: 556,
  lines: [uvRmsdCNTL, uvRmsdNOSFC, uvRmsdERNET, uvRmsdCWOP, uvRmsdCWwnd, uvRmsdNONEW, uvRmsdMISC, uvRmsdCW, uvRmsdASOS] });
makePanel("panelF", { title: "Bias (  fg -obs) Wind Cat 5", titleX: 326, letter: "f", yTitle: "Bias  uv (m/s)", yTitleX: 20, bias: true, left: 90, right: 552,
  lines: [uvBiasCNTL, uvBiasNOSFC, uvBiasERNET, uvBiasCWOP, uvBiasCWwnd, uvBiasNONEW, uvBiasMISC, uvBiasCW, uvBiasASOS] });

// legend at the bottom: [swatch left, swatch width, text left, row center y]
const legendSpots = [
  [8, 87, 118, 1216], [250, 85, 358, 1216], [473, 85, 583, 1216], [731, 84, 840, 1216], [981, 81, 1087, 1216],
  [-25, 85, 84, 1276], [237, 85, 347, 1276], [495, 85, 605, 1276], [735, 85, 845, 1276]
];
const page = document.getElementById("page");
seriesNames.forEach((name, i) => {
  const [sx, sw, tx, cy] = legendSpots[i];
  var swatch = document.createElement("div");
  swatch.className = "sw";
  swatch.style.left = sx + "px";
  swatch.style.width = sw + "px";
  swatch.style.top = (cy - 5) + "px";
  swatch.style.background = seriesColors[i];
  if (i === 0) { swatch.style.height = "10px"; swatch.style.top = (cy - 6) + "px"; }
  page.appendChild(swatch);

  var label = document.createElement("div");
  label.className = "lab";
  label.style.left = tx + "px";
  label.style.top = (cy - 12) + "px";
  label.textContent = name;
  page.appendChild(label);
});
</script>
</body>
</html>
